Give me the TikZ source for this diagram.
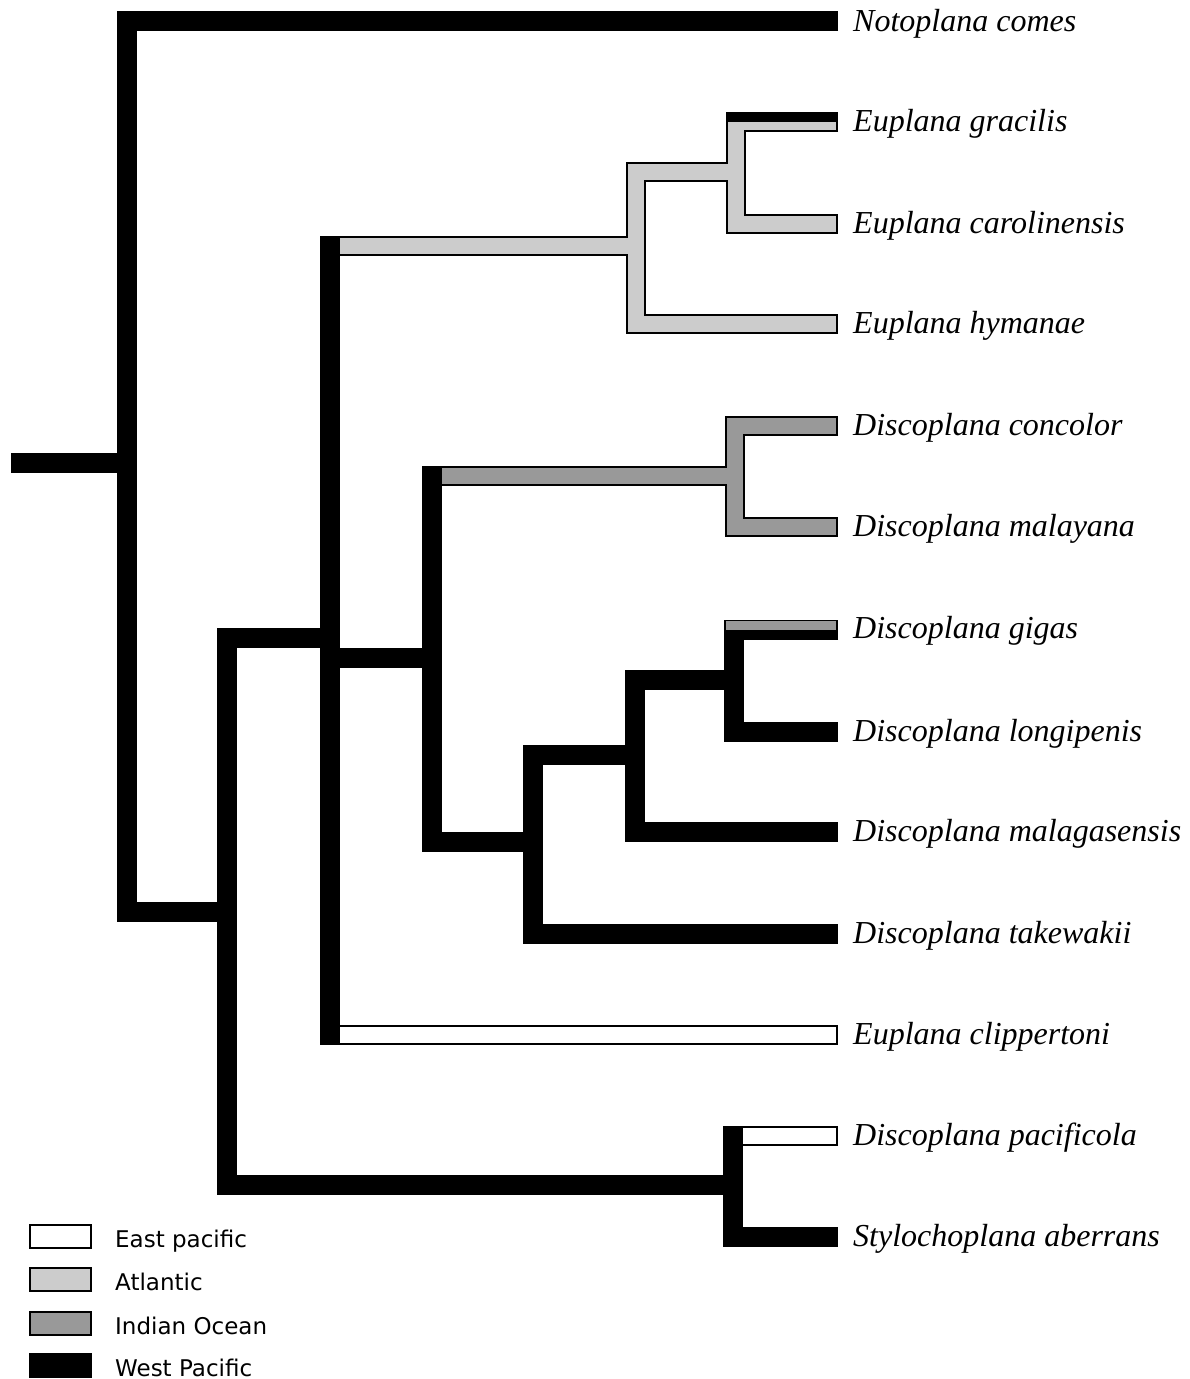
\documentclass[tikz,border=0pt]{standalone}
\usepackage{fontspec}
\setmainfont{Liberation Serif}
\newfontfamily\legfont{DejaVu Sans}
\usetikzlibrary{calc}
\definecolor{atl}{gray}{0.80}
\definecolor{ind}{gray}{0.60}
\tikzset{
  blk/.style={line width=20pt, draw=black, line join=miter, line cap=butt},
  fillbr/.style={line width=16pt, draw=#1, line join=miter, line cap=butt},
  taxon/.style={anchor=base west, inner sep=0pt, font=\fontsize{32}{32}\selectfont\itshape},
  legbox/.style={draw=black, line width=2pt, minimum width=61pt, minimum height=23pt, inner sep=0pt},
  legtext/.style={anchor=base west, inner sep=0pt, font=\legfont\fontsize{23}{23}\selectfont}
}
\begin{document}
\begin{tikzpicture}[x=1pt,y=-1pt]
\useasboundingbox (0,0) rectangle (1190,1379);
\fill[white] (0,0) rectangle (1190,1379);
% leaf tips
\coordinate (l1) at (838,21);
\coordinate (l2) at (838,122);
\coordinate (l3) at (838,224);
\coordinate (l4) at (838,324);
\coordinate (l5) at (838,426);
\coordinate (l6) at (838,527);
\coordinate (l7) at (838,629.5);
\coordinate (l8) at (838,732);
\coordinate (l9) at (838,832);
\coordinate (l10) at (838,934);
\coordinate (l11) at (838,1035);
\coordinate (l12) at (838,1136);
\coordinate (l13) at (838,1237);
% internal nodes
\coordinate (r0) at (11,463);
\coordinate (root) at (127,463);
\coordinate (nB) at (227,912);
\coordinate (nC) at (330,638);
\coordinate (nP) at (733,1185);
\coordinate (nAtl) at (636,246);
\coordinate (nEg) at (735.5,172);
\coordinate (nD) at (432,658);
\coordinate (nInd) at (735,476);
\coordinate (nE) at (533,842);
\coordinate (nF) at (635,755);
\coordinate (nG) at (733.5,680);
% black pass
\draw[blk] (r0) -- (root);
\draw[blk] (l1) -| (root) |- (nB);
\draw[blk] (nC) -| (nB) |- (nP);
\draw[blk] (l12) -| (nP) |- (l13);
\draw[blk] (nAtl) -| (nC) |- (l11);
\draw[blk] (nC|-nD) -- (nD);
\draw[blk] (nInd) -| (nD) |- (nE);
\draw[blk] (nF) -| (nE) |- (l10);
\draw[blk] (nG) -| (nF) |- (l9);
\draw[blk] (l7) -| (nG) |- (l8);
\draw[blk] (l4) -| (nAtl) |- (nEg);
\draw[blk] (l2) -| (nEg) |- (l3);
\draw[blk] (l5) -| (nInd) |- (l6);
% Atlantic
\draw[fillbr=atl] ($(nC|-nAtl)+(10,0)$) -- (nAtl);
\draw[fillbr=atl, shorten <=2pt] (l4) -| (nAtl) |- (nEg);
\draw[fillbr=atl, shorten <=2pt] (l3) -| (nEg) -- ($(nEg|-l2)+(0,4)$);
\fill[atl] ($(nEg|-l2)+(-8,0)$) rectangle ($(l2)+(-2,8)$);
% Indian Ocean
\draw[fillbr=ind] ($(nD|-nInd)+(10,0)$) -- (nInd);
\draw[fillbr=ind, shorten <=2pt, shorten >=2pt] (l5) -| (nInd) |- (l6);
\fill[ind] ($(nG|-l7)+(-8,-8.5)$) rectangle ($(l7)+(-2,0)$);
% East Pacific
\draw[fillbr=white, shorten >=2pt] ($(nC|-l11)+(10,0)$) -- (l11);
\draw[fillbr=white, shorten >=2pt] ($(nP|-l12)+(10,0)$) -- (l12);
% labels
\node[taxon] (t1) at ($(l1)+(15,10)$) {Notoplana comes};
\node[taxon] (t2) at ($(l2)+(15,9.5)$) {Euplana gracilis};
\node[taxon] (t3) at ($(l3)+(15,9.5)$) {Euplana carolinensis};
\node[taxon] (t4) at ($(l4)+(15,9.5)$) {Euplana hymanae};
\node[taxon] (t5) at ($(l5)+(15,9)$) {Discoplana concolor};
\node[taxon] (t6) at ($(l6)+(15,9)$) {Discoplana malayana};
\node[taxon] (t7) at ($(l7)+(15,9)$) {Discoplana gigas};
\node[taxon] (t8) at ($(l8)+(15,9)$) {Discoplana longipenis};
\node[taxon] (t9) at ($(l9)+(15,9)$) {Discoplana malagasensis};
\node[taxon] (t10) at ($(l10)+(15,9)$) {Discoplana takewakii};
\node[taxon] (t11) at ($(l11)+(15,9)$) {Euplana clippertoni};
\node[taxon] (t12) at ($(l12)+(15,9)$) {Discoplana pacificola};
\node[taxon] (t13) at ($(l13)+(15,9)$) {Stylochoplana aberrans};
% legend
\node[legbox, fill=white] (k1) at (60.5,1236.5) {};
\node[legbox, fill=atl] (k2) at (60.5,1279.5) {};
\node[legbox, fill=ind] (k3) at (60.5,1323.5) {};
\node[legbox, fill=black] (k4) at (60.5,1365.5) {};
\node[legtext] (k1t) at ($(k1)+(54.5,10.5)$) {East pacific};
\node[legtext] (k2t) at ($(k2)+(54.5,10.5)$) {Atlantic};
\node[legtext] (k3t) at ($(k3)+(54.5,10.5)$) {Indian Ocean};
\node[legtext] (k4t) at ($(k4)+(54.5,10.5)$) {West Pacific};
\end{tikzpicture}
\end{document}
